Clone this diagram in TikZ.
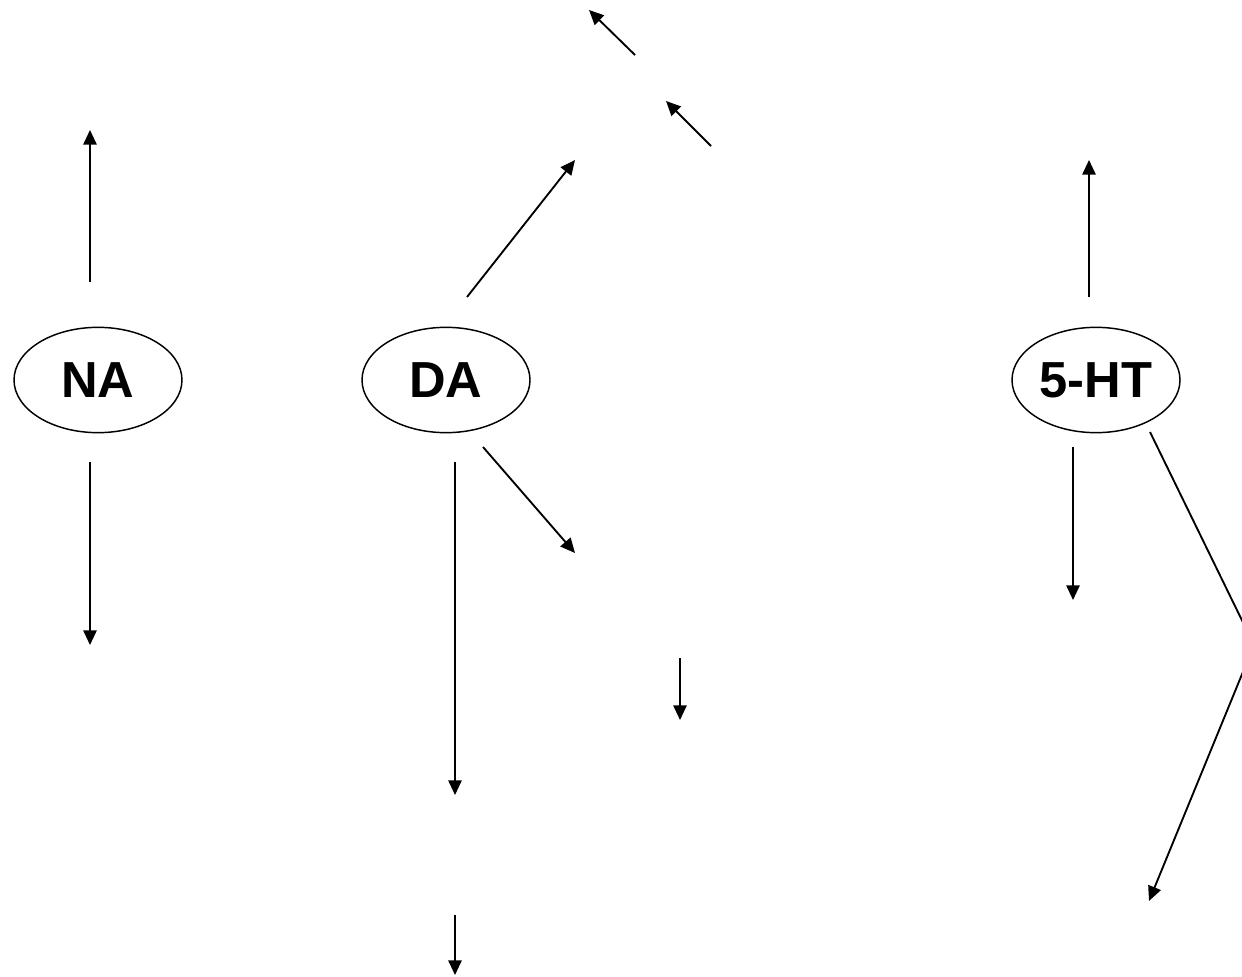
\documentclass[tikz,border=0pt]{standalone}
\usepackage{fontspec}
\setmainfont{Liberation Sans}
\usetikzlibrary{shapes.geometric,arrows.meta}

\tikzset{every picture/.style={line width=1.4pt}}
\tikzset{amine/.style={draw,ellipse,line width=1.1pt,minimum width=126pt,minimum height=79pt,inner sep=0pt,font=\fontsize{38}{40}\selectfont\bfseries}}
\tikzset{link/.style={-{Triangle[length=11pt,width=10pt]}}}

\begin{document}
\begin{tikzpicture}[x=0.75pt,y=0.75pt,yscale=-1,xscale=1]
    \useasboundingbox (0,0) rectangle (1242,977);
    % Ellipse Nodes
    \node [amine] (na) at (98,380) {NA};
    \node [amine] (da) at (446,380) {DA};
    \node [amine] (ht) at (1096,380) {5-HT};
    % Arrow ends
    \coordinate (naUpA) at (90,282);
    \coordinate (naUpB) at (90,130);
    \coordinate (naDnA) at (90,462);
    \coordinate (naDnB) at (90,645);
    \coordinate (daUpA) at (467,297);
    \coordinate (daUpB) at (575,160);
    \coordinate (daDnA) at (455,462);
    \coordinate (daDnB) at (455,795);
    \coordinate (daRtA) at (483,447);
    \coordinate (daRtB) at (575,553);
    \coordinate (midDnA) at (680,658);
    \coordinate (midDnB) at (680,720);
    \coordinate (lowDnA) at (455,915);
    \coordinate (lowDnB) at (455,975);
    \coordinate (topA) at (711,146);
    \coordinate (topB) at (666,101);
    \coordinate (topC) at (635,55);
    \coordinate (topD) at (589,10);
    \coordinate (htUpA) at (1089,297);
    \coordinate (htUpB) at (1089,160);
    \coordinate (htDnA) at (1073,447);
    \coordinate (htDnB) at (1073,600);
    \coordinate (htBnA) at (1150,432);
    \coordinate (htBnB) at (1254,645);
    \coordinate (htBnC) at (1149,901);
    %Straight Lines
    \draw [link] (naUpA) -- (naUpB);
    \draw [link] (naDnA) -- (naDnB);
    \draw [link] (daUpA) -- (daUpB);
    \draw [link] (daDnA) -- (daDnB);
    \draw [link] (daRtA) -- (daRtB);
    \draw [link] (midDnA) -- (midDnB);
    \draw [link] (lowDnA) -- (lowDnB);
    \draw [link] (topA) -- (topB);
    \draw [link] (topC) -- (topD);
    \draw [link] (htUpA) -- (htUpB);
    \draw [link] (htDnA) -- (htDnB);
    %Bent Line
    \draw [link] (htBnA) -- (htBnB) -- (htBnC);
\end{tikzpicture}
\end{document}
